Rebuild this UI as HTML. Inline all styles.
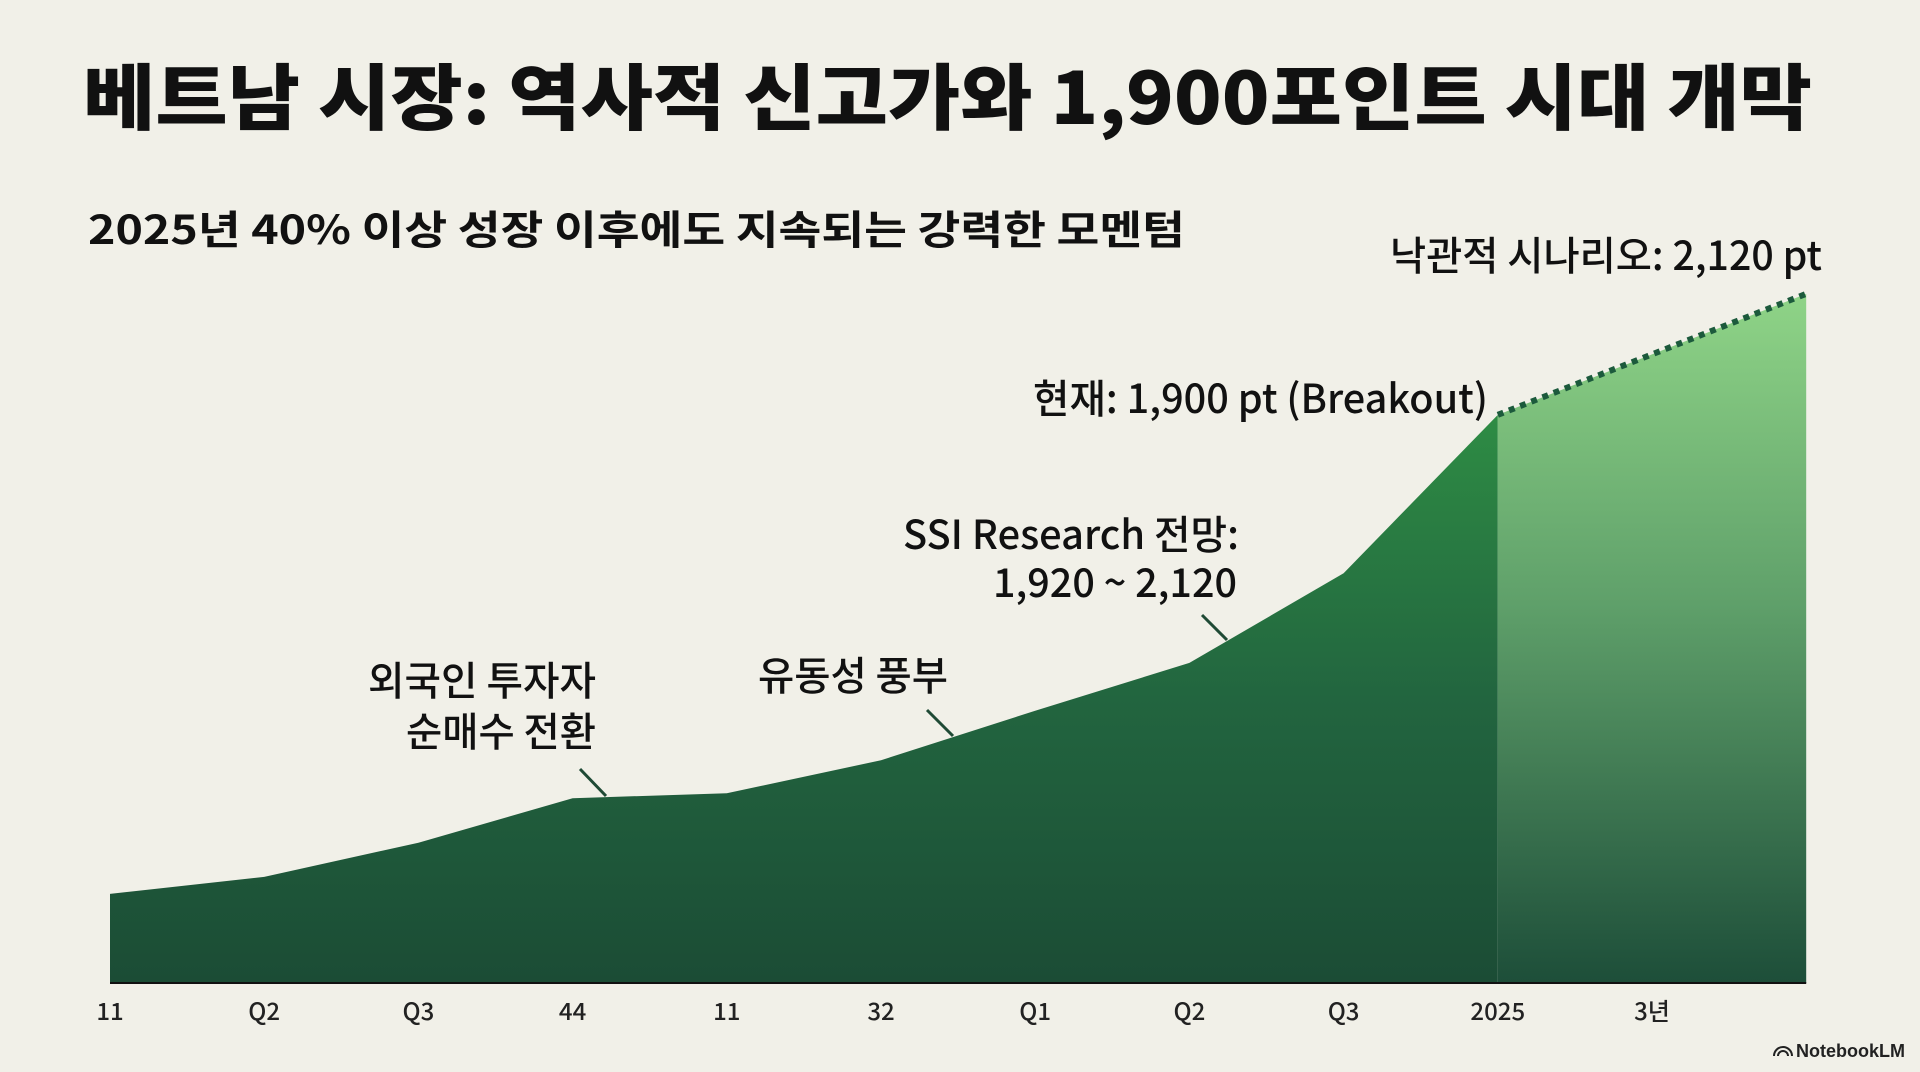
<!DOCTYPE html>
<html><head><meta charset="utf-8"><style>
html,body{margin:0;padding:0;background:#f1f0e8;}
svg{display:block;font-family:"Noto Sans CJK KR","Liberation Sans",sans-serif;}
</style></head><body>
<svg id="chart" width="1920" height="1072" viewBox="0 0 1920 1072" xmlns="http://www.w3.org/2000/svg">
<defs>
<linearGradient id="gDark" x1="0" y1="414" x2="0" y2="983" gradientUnits="userSpaceOnUse">
<stop offset="0" stop-color="#2e8c44"/><stop offset="0.5" stop-color="#22653f"/><stop offset="1" stop-color="#1b4c35"/>
</linearGradient>
<linearGradient id="gLight" x1="0" y1="293" x2="0" y2="983" gradientUnits="userSpaceOnUse">
<stop offset="0" stop-color="#8fd487"/><stop offset="0.45" stop-color="#5fa06a"/><stop offset="1" stop-color="#1d4e39"/>
</linearGradient>
</defs>
<rect width="1920" height="1072" fill="#f1f0e8"/>
<text x="83" y="124" font-size="72" font-weight="900" fill="#111" textLength="1729" lengthAdjust="spacingAndGlyphs">베트남 시장: 역사적 신고가와 1,900포인트 시대 개막</text>
<text x="88" y="244" font-size="40" font-weight="bold" fill="#111" textLength="1097" lengthAdjust="spacingAndGlyphs">2025년 40% 이상 성장 이후에도 지속되는 강력한 모멘텀</text>
<g id="plot"></g>
<g font-size="40" font-weight="500" fill="#111">
<text x="1822" y="270" text-anchor="end" textLength="432" lengthAdjust="spacingAndGlyphs">낙관적 시나리오: 2,120 pt</text>
<text x="1488" y="413" text-anchor="end" textLength="455" lengthAdjust="spacingAndGlyphs">현재: 1,900 pt (Breakout)</text>
<text x="1239" y="549" text-anchor="end" textLength="336" lengthAdjust="spacingAndGlyphs">SSI Research 전망:</text>
<text x="1237" y="597" text-anchor="end" textLength="244" lengthAdjust="spacingAndGlyphs">1,920 ~ 2,120</text>
<line x1="1202" y1="615" x2="1227" y2="640" stroke="#1f4a35" stroke-width="3"/>
<text x="853" y="690" text-anchor="middle" textLength="190" lengthAdjust="spacingAndGlyphs">유동성 풍부</text>
<line x1="927" y1="710" x2="953" y2="736" stroke="#1f4a35" stroke-width="3"/>
<text x="596" y="695" text-anchor="end" textLength="228" lengthAdjust="spacingAndGlyphs">외국인 투자자</text>
<text x="596" y="746" text-anchor="end" textLength="190" lengthAdjust="spacingAndGlyphs">순매수 전환</text>
<line x1="580" y1="769" x2="606" y2="796" stroke="#1f4a35" stroke-width="3"/>
</g>
<g>
<path d="M1774 1056 a9 9 0 0 1 18 0 M1778 1056 a5 5 0 0 1 10 0" fill="none" stroke="#222" stroke-width="2"/>
<text x="1796" y="1057" font-size="18" font-weight="bold" fill="#222" font-family="Liberation Sans, sans-serif">NotebookLM</text>
</g>
</svg>
<script>
const categories = ["11","Q2","Q3","44","11","32","Q1","Q2","Q3","2025","3년"];
const histIndex = [0,1,2,3,4,5,6,7,8,9];
const histValues = [1029,1060,1122,1203,1212,1272,1362,1449,1612,1900];
const projIndex = [9,11];
const projValues = [1900,2120];

const NS = "http://www.w3.org/2000/svg";
const plot = document.getElementById('plot');
const X0 = 110, STEP = 154.2, BASE_Y = 983;
function xScale(i){ return X0 + i*STEP; }
function yScale(v){ return BASE_Y - (v - 867)*0.55; }

function mk(tag, attrs){ const e=document.createElementNS(NS,tag); for(const k in attrs) e.setAttribute(k,attrs[k]); plot.appendChild(e); return e; }

let d = "M"+xScale(histIndex[0])+" "+BASE_Y;
histIndex.forEach((ix,k)=>{ d += " L"+xScale(ix)+" "+yScale(histValues[k]); });
d += " L"+xScale(histIndex[histIndex.length-1])+" "+BASE_Y+" Z";
const a1 = mk('path',{d:d, fill:'url(#gDark)'});



let d2 = "M"+xScale(projIndex[0])+" "+BASE_Y;
projIndex.forEach((ix,k)=>{ d2 += " L"+xScale(ix)+" "+yScale(projValues[k]); });
d2 += " L"+xScale(projIndex[projIndex.length-1])+" "+BASE_Y+" Z";
const a2 = mk('path',{d:d2, fill:'url(#gLight)'});



const pl = mk('line',{x1:xScale(projIndex[0]), y1:yScale(projValues[0]), x2:xScale(projIndex[1]), y2:yScale(projValues[1]), stroke:'#1c5a3c', 'stroke-width':6, 'stroke-dasharray':'6 6'});



const bl = mk('line',{x1:X0, y1:BASE_Y, x2:xScale(projIndex[projIndex.length-1]), y2:BASE_Y, stroke:'#111', 'stroke-width':2});



categories.forEach((c,i)=>{
  const t = mk('text',{x:xScale(i), y:1020, 'text-anchor':'middle', 'font-size':24, 'font-weight':500, fill:'#222'});
  t.textContent = c;
  
  
});
</script>
</body></html>
